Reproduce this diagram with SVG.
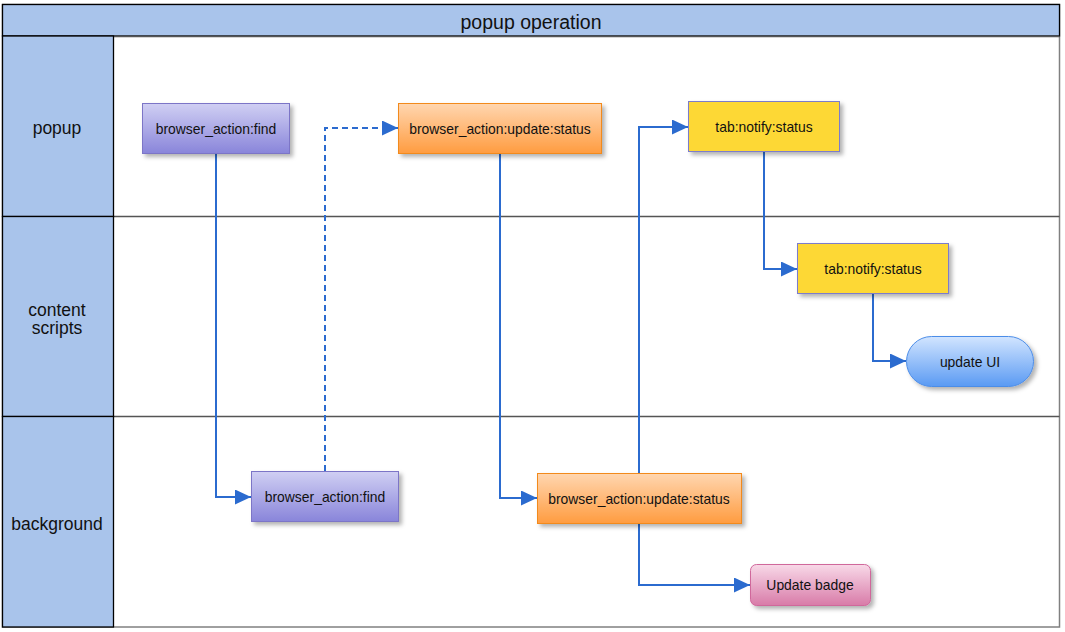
<svg xmlns="http://www.w3.org/2000/svg" width="1065" height="632" viewBox="0 0 1065 632">
<style>
text{font-family:"Liberation Sans",Arial,sans-serif;fill:#111;text-anchor:middle}
.hdr{fill:#a9c4eb;stroke:#000;stroke-width:1.3}
.lbl{font-size:17.5px}
.title{font-size:19.5px}
.nt{font-size:13.9px}
.conn{fill:none;stroke:#2b6bcf;stroke-width:2}
.dash{stroke-dasharray:6,4}
.div{stroke:#555;stroke-width:1.5}
</style>
<defs>
<linearGradient id="gPurple" x1="0" y1="0" x2="0" y2="1"><stop offset="0" stop-color="#d0cff3"/><stop offset="1" stop-color="#8985da"/></linearGradient>
<linearGradient id="gOrange" x1="0" y1="0" x2="0" y2="1"><stop offset="0" stop-color="#ffd6b0"/><stop offset="1" stop-color="#ff9c40"/></linearGradient>
<linearGradient id="gBlue" x1="0" y1="0" x2="0" y2="1"><stop offset="0" stop-color="#d2e5ff"/><stop offset="1" stop-color="#5a9af3"/></linearGradient>
<linearGradient id="gPink" x1="0" y1="0" x2="0" y2="1"><stop offset="0" stop-color="#f8d9e8"/><stop offset="1" stop-color="#d87ba8"/></linearGradient>
<filter id="sh" x="-10%" y="-20%" width="130%" height="150%"><feDropShadow dx="3" dy="3" stdDeviation="2" flood-color="#000" flood-opacity="0.3"/></filter>
<marker id="arr" markerWidth="17" markerHeight="15" refX="16" refY="7.5" orient="auto" markerUnits="userSpaceOnUse"><path d="M0,0 L16,7.5 L0,15 Z" fill="#2b6bcf"/></marker>
</defs>

<g id="pool">
<rect x="2.5" y="4.5" width="1057" height="622.5" fill="#fff" stroke="#808080" stroke-width="1.5"/>
<rect class="hdr" x="2.5" y="4.5" width="1057" height="31.5"/>
<text class="title" x="531" y="29">popup operation</text>
<line class="div" x1="113" y1="36.5" x2="1059.5" y2="36.5"/>
<line class="div" x1="113" y1="216.5" x2="1059.5" y2="216.5"/>
<line class="div" x1="113" y1="416.5" x2="1059.5" y2="416.5"/>
</g>
<g id="lane-popup">
<rect class="hdr" x="2.5" y="36" width="111" height="180.5"/>
<text class="lbl" x="57" y="134">popup</text>
</g>
<g id="lane-content">
<rect class="hdr" x="2.5" y="216.5" width="111" height="200"/>
<text class="lbl" x="57" y="316">content</text>
<text class="lbl" x="57" y="334">scripts</text>
</g>
<g id="lane-background">
<rect class="hdr" x="2.5" y="416.5" width="111" height="210.5"/>
<text class="lbl" x="57" y="530">background</text>
</g>

<g id="connectors">
<path class="conn" d="M216,154 V497 H251" marker-end="url(#arr)"/>
<path class="conn dash" d="M325,471 V128 H398" marker-end="url(#arr)"/>
<path class="conn" d="M500,154 V498 H537" marker-end="url(#arr)"/>
<path class="conn" d="M639,473 V127 H688" marker-end="url(#arr)"/>
<path class="conn" d="M764,152 V269 H797" marker-end="url(#arr)"/>
<path class="conn" d="M873,293 V361 H906" marker-end="url(#arr)"/>
<path class="conn" d="M639,523 V585 H750" marker-end="url(#arr)"/>
</g>

<g id="n-popup-find">
<rect x="142.5" y="103.5" width="147" height="50" fill="url(#gPurple)" stroke="#7b75c7" filter="url(#sh)"/>
<text class="nt" x="216" y="133.5">browser_action:find</text>
</g>
<g id="n-popup-update">
<rect x="398.5" y="103.5" width="203" height="50" fill="url(#gOrange)" stroke="#f28a1c" filter="url(#sh)"/>
<text class="nt" x="500" y="133.5">browser_action:update:status</text>
</g>
<g id="n-popup-notify">
<rect x="688.5" y="101.5" width="151" height="50" fill="#fdd835" stroke="#7b7bcc" filter="url(#sh)"/>
<text class="nt" x="764" y="131.5">tab:notify:status</text>
</g>
<g id="n-content-notify">
<rect x="797.5" y="243.5" width="151" height="50" fill="#fdd835" stroke="#7b7bcc" filter="url(#sh)"/>
<text class="nt" x="873" y="273.5">tab:notify:status</text>
</g>
<g id="n-update-ui">
<rect x="906.5" y="336.5" width="127" height="50" rx="25" fill="url(#gBlue)" stroke="#4c8de8" filter="url(#sh)"/>
<text class="nt" x="970" y="366.5">update UI</text>
</g>
<g id="n-bg-find">
<rect x="251.5" y="471.5" width="147" height="50" fill="url(#gPurple)" stroke="#7b75c7" filter="url(#sh)"/>
<text class="nt" x="325" y="501.5">browser_action:find</text>
</g>
<g id="n-bg-update">
<rect x="537.5" y="473.5" width="204" height="50" fill="url(#gOrange)" stroke="#f28a1c" filter="url(#sh)"/>
<text class="nt" x="639" y="503.5">browser_action:update:status</text>
</g>
<g id="n-badge">
<rect x="750.5" y="564.5" width="120" height="41" rx="6" fill="url(#gPink)" stroke="#d0679b" filter="url(#sh)"/>
<text class="nt" x="810" y="590">Update badge</text>
</g>
</svg>
